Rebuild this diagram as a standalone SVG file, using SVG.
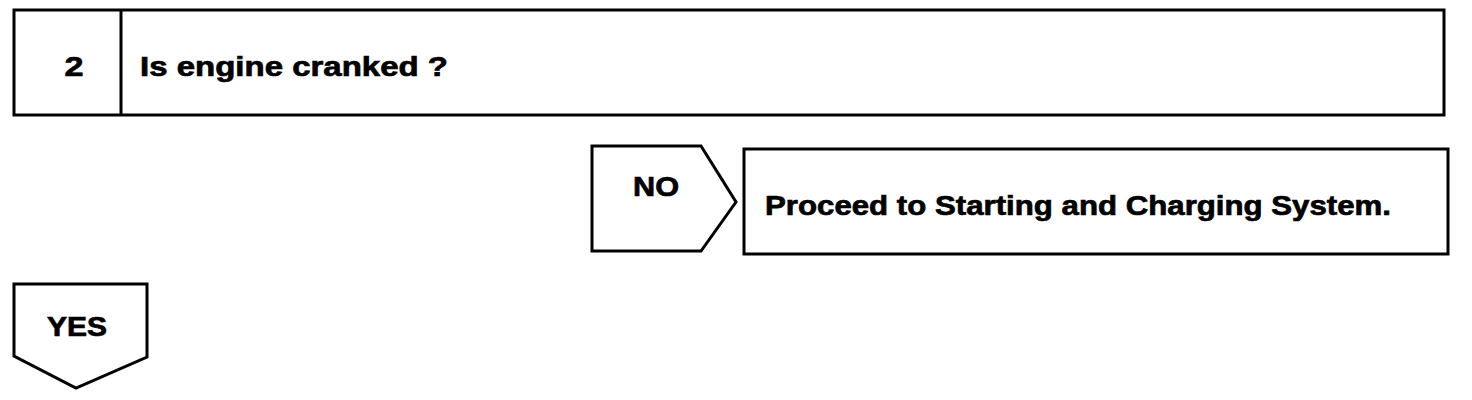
<svg xmlns="http://www.w3.org/2000/svg" width="1472" height="400" viewBox="0 0 1472 400">
  <style>
    .box { fill: #ffffff; stroke: #000000; stroke-width: 3; stroke-linejoin: miter; }
    .t { font-family: "Liberation Sans", Arial, sans-serif; font-weight: bold; fill: #000000; stroke: #000000; stroke-width: 0.7; }
  </style>
  <rect width="1472" height="400" fill="#ffffff"/>
  <g id="step2">
    <rect class="box" x="14" y="10" width="1430" height="105"/>
    <line x1="121" y1="10" x2="121" y2="115" stroke="#000" stroke-width="3"/>
    <text class="t" x="74" y="76" font-size="28" text-anchor="middle" textLength="19" lengthAdjust="spacingAndGlyphs">2</text>
    <text class="t" x="140" y="76" font-size="28" textLength="308" lengthAdjust="spacingAndGlyphs">Is engine cranked ?</text>
  </g>
  <g id="no">
    <polygon class="box" points="592,146 701,146 736,202 701,251 592,251"/>
    <text class="t" x="656" y="196" font-size="27" text-anchor="middle" textLength="46" lengthAdjust="spacingAndGlyphs">NO</text>
  </g>
  <g id="proceed">
    <rect class="box" x="744" y="149" width="704" height="105"/>
    <text class="t" x="765" y="215" font-size="28" textLength="626" lengthAdjust="spacingAndGlyphs">Proceed to Starting and Charging System.</text>
  </g>
  <g id="yes">
    <polygon class="box" points="14,284 147,284 147,357 76,388 14,356"/>
    <text class="t" x="77" y="336" font-size="27" text-anchor="middle" textLength="60" lengthAdjust="spacingAndGlyphs">YES</text>
  </g>
  <g id="connectors"></g>
</svg>
